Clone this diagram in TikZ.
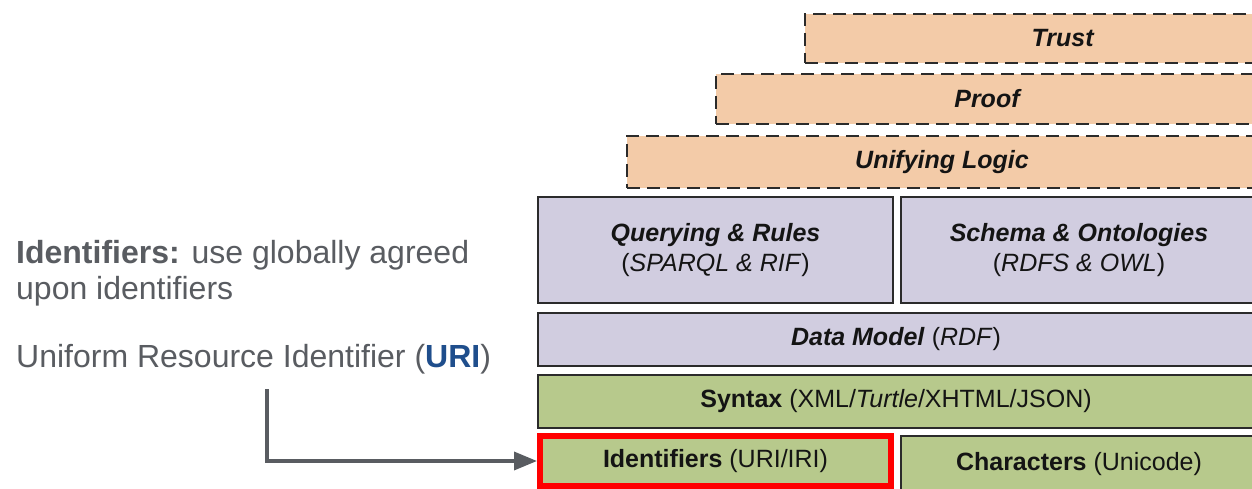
\documentclass[tikz,border=0pt]{standalone}
\usepackage{fontspec}
\setmainfont{Liberation Sans}
\usetikzlibrary{arrows.meta}

\definecolor{peach}{HTML}{F3CBA8}
\definecolor{lavender}{HTML}{D1CDE0}
\definecolor{leaf}{HTML}{B7C98C}
\definecolor{edge}{HTML}{2B2B2B}
\definecolor{ink}{HTML}{141414}
\definecolor{note}{HTML}{595C61}
\definecolor{uriblue}{HTML}{1F4E8C}
\definecolor{hilite}{HTML}{FF0000}

\tikzset{
  layer/.style={draw=edge, line width=2.2pt, inner sep=0pt, text=ink,
    align=center, font=\fontsize{25}{30}\selectfont},
  dashedlayer/.style={layer, fill=peach, dash pattern=on 13pt off 7pt},
  notetext/.style={text=note, inner sep=0pt, anchor=base west,
    font=\fontsize{32}{36}\selectfont, align=left},
  pointer/.style={draw=note, line width=3.5pt,
    -{Triangle[length=23pt, width=18pt]}}
}

\begin{document}
\begin{tikzpicture}[x=1pt, y=-1pt]
  \clip (0,0) rectangle (1252,489);
  \fill[white] (0,0) rectangle (1252,489);

  % upper layers (dashed)
  \node[dashedlayer, minimum width=516pt, minimum height=49pt] (trust) at (1063,38.5)
    {\textbf{\textit{Trust}}};
  \node[dashedlayer, minimum width=544pt, minimum height=50pt] (proof) at (988,99)
    {\textbf{\textit{Proof}}};
  \node[dashedlayer, minimum width=630pt, minimum height=52pt] (logic) at (942,162)
    {\textbf{\textit{Unifying Logic}}};

  % query / schema layers
  \node[layer, fill=lavender, minimum width=355pt, minimum height=106pt] (query) at (715.5,250)
    {\textbf{\textit{Querying \& Rules}}\\(\textit{SPARQL \& RIF})};
  \node[layer, fill=lavender, minimum width=356pt, minimum height=106pt] (schema) at (1079,250)
    {\textbf{\textit{Schema \& Ontologies}}\\(\textit{RDFS \& OWL})};

  % data model and syntax
  \node[layer, fill=lavender, minimum width=716pt, minimum height=53pt] (data) at (896,339.5)
    {\textbf{\textit{Data Model}} (\textit{RDF})};
  \node[layer, fill=leaf, minimum width=716pt, minimum height=53pt] (syntax) at (896,401.5)
    {\textbf{Syntax} (XML/\textit{Turtle}/XHTML/JSON)};

  % bottom layers
  \node[layer, fill=leaf, draw=hilite, line width=6pt, minimum width=351pt, minimum height=50pt] (idf) at (715.5,461)
    {\textbf{Identifiers} (URI/IRI)};
  \node[layer, fill=leaf, minimum width=356pt, minimum height=56pt] (chars) at (1079,464)
    {\textbf{Characters} (Unicode)};

  % explanatory text (base anchor sits on the last line)
  \node[notetext] (def) at (16,299)
    {\textbf{Identifiers:} use globally agreed\\upon identifiers};
  \node[notetext] (uri) at (16,367)
    {Uniform Resource Identifier (\textcolor{uriblue}{\textbf{URI}})};

  % pointer to the identifiers layer
  \coordinate (start) at (267,389);
  \draw[pointer] (start) |- (idf.west);
\end{tikzpicture}
\end{document}
